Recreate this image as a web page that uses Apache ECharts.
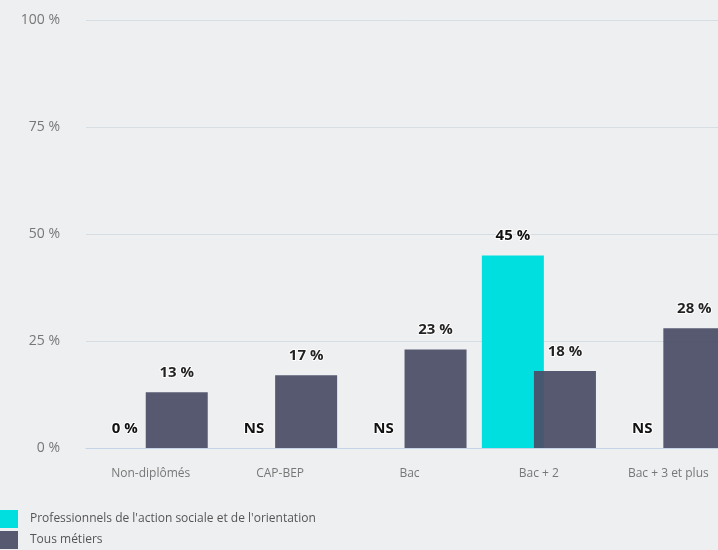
<!DOCTYPE html>
<html>
<head>
<meta charset="UTF-8">
<title>Diplômes</title>
<style>
  html, body { margin: 0; padding: 0; background: #eeeff1; }
  #chart { width: 718px; height: 550px; }
</style>
</head>
<body>
<div id="chart"></div>
<script src="https://cdn.jsdelivr.net/npm/echarts@6/dist/echarts.min.js"></script>
<script>
var categories = ['Non-diplômés', 'CAP-BEP', 'Bac', 'Bac + 2', 'Bac + 3 et plus'];
var seriesNames = ["Professionnels de l'action sociale et de l'orientation", 'Tous métiers'];
// null = non significatif (NS)
var proValues = [0, null, null, 45, null];
var allValues = [13, 17, 23, 18, 28];
var yTicks = [0, 25, 50, 75, 100];

var labelStyle = {
  show: true,
  position: 'top',
  distance: 12,
  fontFamily: 'Open Sans',
  fontWeight: 'bold',
  fontSize: 15,
  color: '#111',
  textBorderColor: '#ffffff',
  textBorderWidth: 2
};

function toData(arr) {
  return arr.map(function (v) {
    if (v === null) {
      return { value: 0, label: { formatter: 'NS' } };
    }
    return v;
  });
}

var chart = echarts.init(document.getElementById('chart'));
chart.setOption({
  backgroundColor: '#eeeff1',
  animation: false,
  textStyle: { fontFamily: 'Open Sans' },
  grid: { left: 86, top: 20, width: 647, height: 428, containLabel: false, outerBoundsMode: 'none' },
  legend: {
    orient: 'vertical',
    left: 0,
    top: 510,
    height: 60,
    padding: 0,
    itemWidth: 18,
    itemHeight: 18,
    itemGap: 3,
    icon: 'rect',
    textStyle: { fontSize: 12, color: '#555', fontFamily: 'Open Sans', padding: [5, 0, 0, 7] },
    data: seriesNames
  },
  xAxis: {
    type: 'category',
    data: categories,
    axisTick: { show: false },
    axisLine: { lineStyle: { color: '#c5d3e6' } },
    axisLabel: { color: '#777', fontSize: 12, margin: 20, fontFamily: 'Open Sans' }
  },
  yAxis: {
    type: 'value',
    min: yTicks[0],
    max: yTicks[yTicks.length - 1],
    interval: 25,
    axisLine: { show: false },
    axisTick: { show: false },
    splitLine: { lineStyle: { color: '#d6dde3' } },
    axisLabel: { color: '#777', fontSize: 14, margin: 26, formatter: '{value} %' }
  },
  series: [{
    name: seriesNames[0],
    type: 'bar',
    barWidth: 62,
    barGap: '-16%',
    itemStyle: { color: '#00dfe0' },
    label: Object.assign({}, labelStyle, { formatter: '{c} %' }),
    data: toData(proValues)
  }, {
    name: seriesNames[1],
    type: 'bar',
    barWidth: 62,
    itemStyle: { color: '#4a4d66', opacity: 0.93 },
    label: Object.assign({}, labelStyle, { formatter: '{c} %' }),
    data: toData(allValues)
  }]
});
</script>
</body>
</html>
